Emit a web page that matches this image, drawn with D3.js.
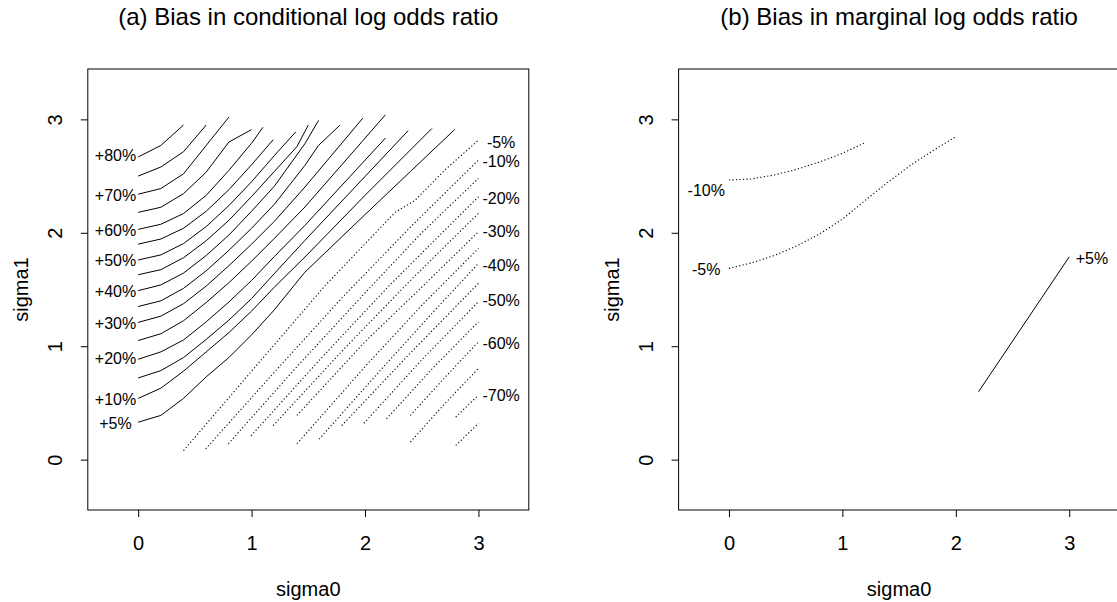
<!DOCTYPE html>
<html>
<head>
<meta charset="utf-8">
<script src="https://cdn.jsdelivr.net/npm/d3@7"></script>
<style>
  body { margin: 0; background: #fff; }
  text { font-family: "Liberation Sans", Arial, Helvetica, sans-serif; fill: #000; }
</style>
</head>
<body>
<script>
// contour lines, points are [sigma0, sigma1]

// (a) conditional log odds ratio, positive bias (solid)
var condPosLevels = [80, 75, 70, 65, 60, 55, 50, 45, 40, 35, 30, 25, 20, 15, 10, 5];
var condPosLines = [
  [[0,2.668],[0.2,2.77],[0.4,2.95]],
  [[0,2.50],[0.2,2.58],[0.4,2.715],[0.6,2.95]],
  [[0,2.34],[0.2,2.39],[0.4,2.52],[0.6,2.77],[0.8,3.02]],
  [[0,2.18],[0.2,2.225],[0.4,2.345],[0.6,2.535],[0.8,2.80],[1.0,2.91]],
  [[0,2.03],[0.2,2.075],[0.4,2.17],[0.6,2.33],[0.8,2.55],[1.0,2.79],[1.1,2.93]],
  [[0,1.90],[0.2,1.945],[0.4,2.04],[0.6,2.19],[0.8,2.38],[1.0,2.60],[1.19,2.82]],
  [[0,1.76],[0.2,1.805],[0.4,1.905],[0.6,2.055],[0.8,2.24],[1.0,2.45],[1.2,2.68],[1.39,2.89]],
  [[0,1.63],[0.2,1.675],[0.4,1.78],[0.6,1.93],[0.8,2.11],[1.0,2.32],[1.2,2.54],[1.4,2.76],[1.5,2.95]],
  [[0,1.49],[0.2,1.54],[0.4,1.645],[0.6,1.80],[0.8,1.98],[1.0,2.19],[1.2,2.41],[1.47,2.785],[1.59,2.99]],
  [[0,1.35],[0.2,1.40],[0.4,1.51],[0.6,1.665],[0.8,1.845],[1.0,2.04],[1.2,2.25],[1.47,2.594],[1.59,2.77],[1.78,2.95]],
  [[0,1.21],[0.2,1.265],[0.4,1.375],[0.6,1.53],[0.8,1.71],[1.0,1.90],[1.2,2.10],[1.47,2.403],[1.98,3.01]],
  [[0,1.05],[0.2,1.11],[0.4,1.225],[0.6,1.385],[0.8,1.56],[1.0,1.75],[1.2,1.95],[1.47,2.227],[2.18,3.04]],
  [[0,0.885],[0.2,0.95],[0.4,1.055],[0.6,1.215],[0.8,1.39],[1.0,1.58],[1.2,1.79],[1.47,2.065],[2.18,2.835]],
  [[0,0.72],[0.2,0.785],[0.4,0.90],[0.6,1.06],[0.8,1.23],[1.0,1.42],[1.2,1.64],[1.47,1.933],[2.38,2.90]],
  [[0,0.54],[0.2,0.63],[0.4,0.78],[0.6,0.95],[0.8,1.12],[1.0,1.31],[1.2,1.52],[1.47,1.786],[2.0,2.33],[2.59,2.92]],
  [[0,0.33],[0.2,0.39],[0.4,0.54],[0.6,0.73],[0.8,0.90],[1.0,1.10],[1.2,1.32],[1.47,1.653],[2.0,2.16],[2.4,2.54],[2.79,2.91]]
];

// (a) negative bias (dotted)
var condNegLevels = [-5, -10, -15, -20, -25, -30, -35, -40, -45, -50, -55, -60, -65, -70, -75];
var condNegLines = [
  [[0.40,0.08],[1.0,0.78],[1.65,1.536],[2.265,2.18],[2.44,2.285],[2.70,2.55],[3.0,2.817]],
  [[0.595,0.095],[1.2,0.77],[1.8,1.43],[2.4,2.05],[3.0,2.641]],
  [[0.795,0.14],[1.4,0.82],[2.0,1.47],[2.5,2.0],[3.0,2.48]],
  [[0.995,0.21],[1.6,0.88],[2.2,1.52],[2.6,1.92],[3.0,2.317]],
  [[1.19,0.30],[1.8,0.96],[2.4,1.58],[3.0,2.171]],
  [[1.40,0.39],[2.0,1.04],[2.5,1.52],[3.0,2.009]],
  [[1.40,0.14],[2.0,0.82],[2.5,1.36],[3.0,1.862]],
  [[1.595,0.18],[2.2,0.86],[2.6,1.30],[3.0,1.73]],
  [[1.795,0.30],[2.4,0.94],[3.0,1.554]],
  [[1.99,0.32],[2.5,0.88],[3.0,1.392]],
  [[2.19,0.36],[2.6,0.81],[3.0,1.215]],
  [[2.40,0.39],[2.7,0.72],[3.0,1.039]],
  [[2.40,0.155],[2.7,0.49],[3.0,0.804]],
  [[2.80,0.375],[3.0,0.569]],
  [[2.80,0.125],[3.0,0.319]]
];

// (a) labels, left side at sigma0 = -0.2, right side at sigma0 = 3.2
var condLeftLabels = ["+80%", "+70%", "+60%", "+50%", "+40%", "+30%", "+20%", "+10%", "+5%"];
var condLeftLabelY = [2.68, 2.33, 2.02, 1.755, 1.48, 1.20, 0.89, 0.53, 0.32];
var condRightLabels = ["-5%", "-10%", "-20%", "-30%", "-40%", "-50%", "-60%", "-70%"];
var condRightLabelY = [2.80, 2.63, 2.30, 2.01, 1.715, 1.40, 1.025, 0.57];

// (b) marginal log odds ratio
var margNegLevels = [-10, -5];
var margNegLines = [
  [[0,2.465],[0.2,2.475],[0.4,2.51],[0.6,2.56],[0.8,2.625],[1.0,2.70],[1.205,2.797]],
  [[0,1.686],[0.2,1.735],[0.4,1.80],[0.6,1.885],[0.8,1.99],[1.0,2.12],[1.2,2.285],[1.4,2.445],[1.6,2.595],[1.8,2.725],[2.0,2.847]]
];
var margPosLevels = [5];
var margPosLines = [
  [[2.2,0.598],[3.0,1.788]]
];
var margLabels = ["-10%", "-5%", "+5%"];
var margLabelX = [-0.2, -0.2, 3.2];
var margLabelY = [2.377, 1.675, 1.77];

var tickValues = [0, 1, 2, 3];
var axisLimits = [-0.444, 3.444];

// page and panel sizes
var svgWidth = 1117;
var svgHeight = 602;
var plotSize = 441;
var plotTop = 69;
var panelLeft = [87.8, 678.6];
var titles = ["(a) Bias in conditional log odds ratio", "(b) Bias in marginal log odds ratio"];

var svg = d3.select("body")
  .append("svg")
  .attr("width", svgWidth)
  .attr("height", svgHeight);

var x = d3.scaleLinear().domain(axisLimits).range([0, plotSize]);
var y = d3.scaleLinear().domain(axisLimits).range([plotSize, 0]);

var line = d3.line()
  .x(d => x(d[0]))
  .y(d => y(d[1]));

function drawPanel(i) {
  var g = svg.append("g")
    .attr("transform", `translate(${panelLeft[i]}, ${plotTop})`);

  // axes with R-like ticks
  var bottom = g.append("g")
    .attr("transform", `translate(0, ${plotSize})`)
    .call(d3.axisBottom(x).tickValues(tickValues).tickFormat(d3.format("d")).tickSize(7).tickPadding(19).tickSizeOuter(0));
  var left = g.append("g")
    .call(d3.axisLeft(y).tickValues(tickValues).tickFormat(d3.format("d")).tickSize(7).tickSizeOuter(0));

  [bottom, left].forEach(function(a) {
    a.select(".domain").remove();
    a.selectAll("line").attr("stroke", "#000");
    a.selectAll("text").attr("font-size", 20).attr("font-family", null);
  });

  // rotate the y tick labels like R does
  left.selectAll("text")
    .attr("x", null).attr("dy", "0.35em")
    .attr("text-anchor", "middle")
    .attr("transform", "translate(-33,0) rotate(-90)");

  // box
  g.append("rect")
    .attr("width", plotSize)
    .attr("height", plotSize)
    .attr("fill", "none")
    .attr("stroke", "#000")
    .attr("stroke-width", 1);

  // title and axis titles
  g.append("text")
    .attr("x", plotSize / 2)
    .attr("y", 17 - plotTop)
    .attr("dy", "0.35em")
    .attr("text-anchor", "middle")
    .attr("font-size", 24)
    .text(titles[i]);

  g.append("text")
    .attr("x", plotSize / 2)
    .attr("y", 589 - plotTop)
    .attr("dy", "0.35em")
    .attr("text-anchor", "middle")
    .attr("font-size", 20)
    .text("sigma0");

  g.append("text")
    .attr("transform", `translate(-67, ${plotSize / 2}) rotate(-90)`)
    .attr("dy", "0.35em")
    .attr("text-anchor", "middle")
    .attr("font-size", 20)
    .text("sigma1");

  return g;
}

var ga = drawPanel(0);
var gb = drawPanel(1);

function drawLines(g, data, dotted) {
  g.selectAll(null)
    .data(data)
    .enter()
    .append("path")
    .attr("d", line)
    .attr("fill", "none")
    .attr("stroke", "#000")
    .attr("stroke-width", dotted ? 1.1 : 1)
    .attr("stroke-dasharray", dotted ? "1.2,2.3" : null);
}

function drawLabels(g, labels, xs, ys) {
  g.selectAll(null)
    .data(labels)
    .enter()
    .append("text")
    .attr("x", (d, j) => x(xs[j]))
    .attr("y", (d, j) => y(ys[j]))
    .attr("dy", "0.35em")
    .attr("text-anchor", "middle")
    .attr("font-size", 16)
    .text(d => d);
}

drawLines(ga, condPosLines, false);
drawLines(ga, condNegLines, true);
drawLabels(ga, condLeftLabels, condLeftLabels.map(() => -0.2), condLeftLabelY);
drawLabels(ga, condRightLabels, condRightLabels.map(() => 3.2), condRightLabelY);

drawLines(gb, margNegLines, true);
drawLines(gb, margPosLines, false);
drawLabels(gb, margLabels, margLabelX, margLabelY);
</script>
</body>
</html>
